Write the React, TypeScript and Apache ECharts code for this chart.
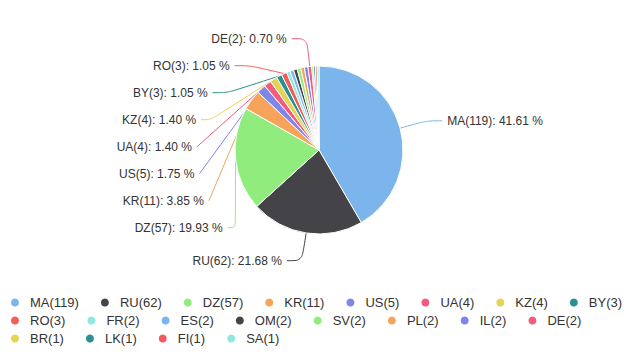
import React, { useEffect, useRef } from "react";
import * as echarts from "echarts";

const names = ["MA", "RU", "DZ", "KR", "US", "UA", "KZ", "BY", "RO", "FR", "ES", "OM", "SV", "PL", "IL", "DE", "BR", "LK", "FI", "SA"];
const counts = [119, 62, 57, 11, 5, 4, 4, 3, 3, 2, 2, 2, 2, 2, 2, 2, 1, 1, 1, 1];
const labelled = ["MA", "RU", "DZ", "KR", "US", "UA", "KZ", "BY", "RO", "DE"];
const palette = ["#7cb5ec", "#434348", "#90ed7d", "#f7a35c", "#8085e9", "#f15c80", "#e4d354", "#2b908f", "#f45b5b", "#91e8e1"];

export default function App() {
  const ref = useRef<HTMLDivElement>(null);
  useEffect(() => {
    document.body.style.margin = "0";
    if (!ref.current) return;
    const chart = echarts.init(ref.current, undefined, { renderer: "svg" });
    const total = counts.reduce((a, b) => a + b, 0);
    const data = names.map((n, i) => ({
      name: `${n}(${counts[i]})`,
      value: counts[i],
      label: { show: labelled.includes(n) },
      labelLine: { show: labelled.includes(n) },
    }));
    chart.setOption({
      animation: false,
      color: palette,
      textStyle: { fontFamily: "Liberation Sans, Arial, sans-serif" },
      legend: {
        top: 296,
        left: 9,
        width: 631,
        padding: 0,
        icon: "circle",
        itemWidth: 20,
        itemHeight: 10,
        itemGap: 5,
        textStyle: { fontSize: 13, lineHeight: 13, color: "#333", padding: [0, 15, 0, 0] },
      },
      series: [
        {
          type: "pie",
          center: [319, 150],
          radius: 84,
          startAngle: 90,
          clockwise: true,
          avoidLabelOverlap: true,
          itemStyle: { borderColor: "#fff", borderWidth: 1 },
          label: {
            fontSize: 12,
            color: "#333",
            lineHeight: 25,
            formatter: (p: any) => `${p.name}: ${((p.value / total) * 100).toFixed(2)} %`,
          },
          labelLine: { show: true, smooth: true, length: 28, length2: 15, lineStyle: { width: 1 } },
          data,
        },
      ],
    });
    return () => chart.dispose();
  }, []);
  return <div ref={ref} style={{ width: 640, height: 360, background: "#fff" }} />;
}
